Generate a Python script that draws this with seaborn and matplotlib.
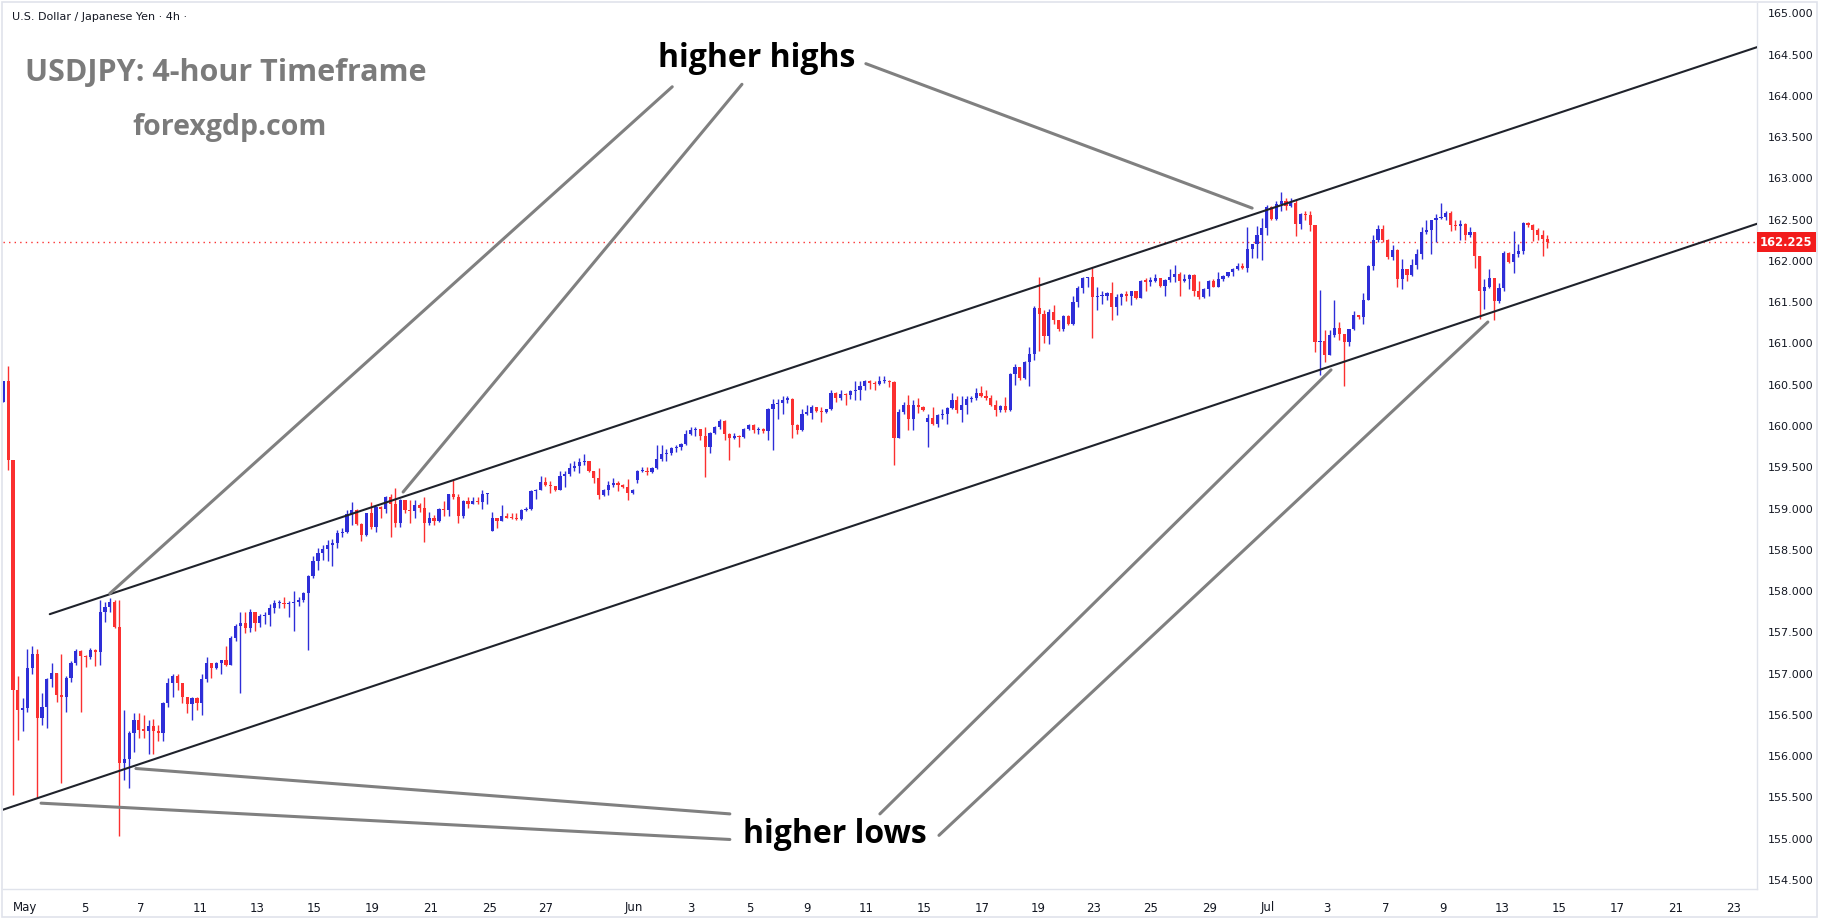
import numpy as np
import pandas as pd
import matplotlib
matplotlib.use("Agg")
import matplotlib.pyplot as plt
import matplotlib.transforms as mtransforms
from matplotlib.patches import Rectangle
import seaborn as sns

# ------------------------------------------------------------------
# USDJPY 4h candles
# ------------------------------------------------------------------
first_open = 160.29
gap_opens = {101: 158.73, 131: 159.35, 191: 160.05}

close = [
    160.54, 159.59, 156.80, 156.56, 156.58, 157.07, 157.24, 156.46, 156.60, 156.93,
    157.01, 156.74, 156.72, 156.95, 157.13, 157.27, 157.21, 157.20, 157.29, 157.26,
    157.75, 157.81, 157.87, 157.57, 155.92, 155.96, 156.28, 156.44, 156.32, 156.31,
    156.36, 156.31, 156.28, 156.64, 156.88, 156.97, 156.88, 156.72, 156.63, 156.70,
    156.64, 156.93, 157.13, 157.07, 157.13, 157.16, 157.11, 157.43, 157.58, 157.61,
    157.55, 157.75, 157.61, 157.70, 157.71, 157.80, 157.85, 157.86, 157.84, 157.85,
    157.87, 157.89, 157.98, 158.18, 158.37, 158.46, 158.51, 158.56, 158.58, 158.70,
    158.72, 158.93, 158.98, 158.81, 158.68, 158.94, 158.78, 159.02, 159.00, 159.14,
    159.06, 158.82, 159.10, 158.98, 158.97, 159.04, 159.01, 158.83, 158.89, 158.85,
    159.00, 158.98, 159.17, 159.14, 158.91, 159.09, 159.06, 159.09, 159.08, 159.17,
    159.18, 158.89, 158.85, 158.91, 158.89, 158.88, 158.87, 158.98, 159.00, 159.21,
    159.23, 159.32, 159.28, 159.27, 159.23, 159.40, 159.42, 159.49, 159.51, 159.56,
    159.57, 159.45, 159.37, 159.16, 159.23, 159.29, 159.31, 159.29, 159.26, 159.19,
    159.23, 159.45, 159.46, 159.44, 159.49, 159.60, 159.66, 159.67, 159.73, 159.74,
    159.78, 159.90, 159.95, 159.96, 159.88, 159.75, 159.92, 159.99, 160.06, 159.90,
    159.86, 159.88, 159.87, 159.96, 160.01, 159.95, 159.96, 159.94, 160.21, 160.27,
    160.28, 160.32, 160.33, 160.01, 159.95, 160.15, 160.16, 160.23, 160.18, 160.17,
    160.20, 160.40, 160.34, 160.39, 160.37, 160.42, 160.44, 160.48, 160.54, 160.52,
    160.51, 160.54, 160.55, 160.53, 159.86, 160.17, 160.25, 160.08, 160.25, 160.23,
    160.19, 160.10, 160.03, 160.13, 160.14, 160.22, 160.32, 160.19, 160.25, 160.33,
    160.34, 160.40, 160.36, 160.34, 160.25, 160.19, 160.24, 160.19, 160.63, 160.71,
    160.58, 160.78, 160.87, 161.43, 161.36, 161.09, 161.38, 161.28, 161.17, 161.33,
    161.23, 161.50, 161.67, 161.79, 161.80, 161.56, 161.57, 161.58, 161.61, 161.44,
    161.56, 161.60, 161.57, 161.63, 161.55, 161.76, 161.75, 161.76, 161.79, 161.70,
    161.77, 161.81, 161.84, 161.76, 161.78, 161.83, 161.63, 161.56, 161.66, 161.76,
    161.69, 161.78, 161.82, 161.86, 161.90, 161.94, 161.92, 162.14, 162.20, 162.32,
    162.40, 162.65, 162.51, 162.69, 162.73, 162.66, 162.70, 162.45, 162.57, 162.56,
    162.43, 161.02, 161.03, 160.86, 161.10, 161.19, 161.11, 161.02, 161.17, 161.34,
    161.32, 161.53, 161.94, 162.25, 162.39, 162.25, 162.05, 162.13, 161.78, 161.90,
    161.83, 161.95, 162.08, 162.35, 162.37, 162.49, 162.52, 162.53, 162.58, 162.43,
    162.42, 162.45, 162.31, 162.35, 162.06, 161.63, 161.69, 161.79, 161.51, 161.67,
    162.10, 161.99, 162.08, 162.12, 162.46, 162.43, 162.37, 162.32, 162.27, 162.225,
]

high = [
    160.54, 160.73, 159.59, 156.97, 156.70, 157.30, 157.33, 157.30, 156.76, 156.95,
    157.13, 156.95, 157.24, 156.97, 157.15, 157.30, 157.29, 157.22, 157.31, 157.30,
    157.89, 157.87, 157.92, 157.89, 157.89, 156.56, 156.30, 156.52, 156.52, 156.50,
    156.44, 156.45, 156.38, 156.66, 156.95, 156.99, 157.00, 156.86, 156.72, 156.72,
    156.72, 156.99, 157.20, 157.13, 157.14, 157.17, 157.33, 157.45, 157.60, 157.75,
    157.75, 157.78, 157.75, 157.72, 157.75, 157.84, 157.89, 157.89, 157.93, 157.88,
    158.00, 157.93, 157.99, 158.20, 158.42, 158.52, 158.56, 158.62, 158.63, 158.74,
    158.76, 158.98, 159.08, 159.00, 158.82, 158.95, 159.08, 159.03, 159.03, 159.15,
    159.18, 159.25, 159.11, 159.10, 159.10, 159.10, 159.07, 159.14, 158.96, 158.92,
    159.01, 159.09, 159.18, 159.35, 159.17, 159.10, 159.14, 159.14, 159.14, 159.23,
    159.19, 158.96, 158.89, 159.04, 158.95, 158.95, 158.94, 159.00, 159.02, 159.23,
    159.24, 159.39, 159.38, 159.33, 159.27, 159.45, 159.45, 159.55, 159.57, 159.61,
    159.66, 159.58, 159.46, 159.49, 159.24, 159.33, 159.37, 159.33, 159.30, 159.36,
    159.24, 159.47, 159.50, 159.50, 159.50, 159.77, 159.77, 159.72, 159.74, 159.77,
    159.79, 159.95, 159.99, 159.99, 159.96, 159.99, 159.93, 160.00, 160.09, 160.07,
    159.91, 159.92, 159.89, 159.97, 160.03, 160.02, 159.99, 159.97, 160.22, 160.33,
    160.33, 160.36, 160.36, 160.34, 160.02, 160.20, 160.26, 160.26, 160.23, 160.23,
    160.21, 160.44, 160.41, 160.43, 160.40, 160.43, 160.54, 160.54, 160.56, 160.56,
    160.55, 160.60, 160.60, 160.56, 160.54, 160.21, 160.29, 160.38, 160.31, 160.34,
    160.24, 160.14, 160.23, 160.14, 160.20, 160.23, 160.40, 160.36, 160.36, 160.36,
    160.36, 160.46, 160.48, 160.44, 160.38, 160.31, 160.25, 160.35, 160.64, 160.75,
    160.72, 160.79, 160.96, 161.45, 161.80, 161.41, 161.42, 161.46, 161.28, 161.34,
    161.34, 161.57, 161.70, 161.81, 161.80, 161.92, 161.69, 161.63, 161.62, 161.75,
    161.60, 161.61, 161.63, 161.64, 161.63, 161.77, 161.79, 161.81, 161.84, 161.79,
    161.78, 161.90, 161.95, 161.86, 161.84, 161.84, 161.84, 161.76, 161.67, 161.77,
    161.78, 161.87, 161.83, 161.87, 161.91, 161.97, 161.98, 162.41, 162.21, 162.42,
    162.52, 162.68, 162.66, 162.73, 162.84, 162.76, 162.76, 162.74, 162.58, 162.60,
    162.60, 162.44, 161.65, 161.16, 161.16, 161.53, 161.26, 161.12, 161.18, 161.39,
    161.35, 161.61, 161.95, 162.31, 162.43, 162.43, 162.27, 162.19, 162.14, 162.02,
    161.90, 162.02, 162.14, 162.41, 162.49, 162.50, 162.57, 162.70, 162.60, 162.60,
    162.50, 162.50, 162.46, 162.41, 162.35, 162.06, 161.78, 161.90, 161.79, 161.73,
    162.12, 162.11, 162.36, 162.21, 162.47, 162.47, 162.45, 162.40, 162.38, 162.32,
]

low = [
    160.29, 159.47, 155.53, 156.20, 156.30, 156.54, 156.99, 155.49, 156.38, 156.34,
    156.84, 156.66, 155.67, 156.54, 156.90, 157.10, 156.54, 157.08, 157.18, 157.09,
    157.11, 157.62, 157.75, 157.55, 155.03, 155.71, 155.61, 156.05, 156.22, 156.22,
    156.02, 156.02, 156.18, 156.18, 156.60, 156.72, 156.80, 156.64, 156.52, 156.44,
    156.56, 156.50, 156.90, 156.95, 157.05, 156.99, 157.09, 157.10, 157.40, 156.76,
    157.49, 157.50, 157.52, 157.56, 157.60, 157.58, 157.74, 157.80, 157.80, 157.69,
    157.51, 157.82, 157.87, 157.29, 158.16, 158.26, 158.38, 158.36, 158.30, 158.52,
    158.65, 158.70, 158.80, 158.80, 158.61, 158.67, 158.75, 158.72, 158.89, 158.94,
    158.65, 158.78, 158.78, 158.95, 158.82, 158.88, 158.96, 158.59, 158.80, 158.80,
    158.84, 158.91, 158.91, 159.12, 158.82, 158.88, 159.01, 159.05, 159.06, 159.00,
    159.06, 158.73, 158.76, 158.85, 158.88, 158.87, 158.86, 158.86, 158.97, 158.98,
    159.11, 159.22, 159.27, 159.19, 159.21, 159.22, 159.26, 159.40, 159.45, 159.43,
    159.53, 159.44, 159.31, 159.11, 159.15, 159.16, 159.26, 159.21, 159.25, 159.10,
    159.18, 159.31, 159.44, 159.41, 159.43, 159.48, 159.57, 159.57, 159.65, 159.68,
    159.71, 159.77, 159.89, 159.88, 159.83, 159.38, 159.67, 159.90, 159.96, 159.83,
    159.59, 159.84, 159.75, 159.85, 159.95, 159.92, 159.90, 159.91, 159.83, 159.71,
    160.09, 160.15, 160.28, 159.85, 159.90, 159.94, 160.13, 160.09, 160.17, 160.05,
    160.16, 160.19, 160.29, 160.31, 160.25, 160.33, 160.32, 160.32, 160.44, 160.45,
    160.44, 160.50, 160.52, 160.47, 159.53, 159.86, 160.14, 159.95, 159.95, 160.16,
    160.18, 159.74, 160.01, 159.99, 160.08, 160.03, 160.21, 160.16, 160.05, 160.14,
    160.29, 160.31, 160.35, 160.32, 160.24, 160.12, 160.17, 160.17, 160.18, 160.50,
    160.56, 160.57, 160.48, 160.80, 160.91, 161.01, 160.99, 161.24, 161.15, 161.15,
    161.22, 161.22, 161.44, 161.61, 161.69, 161.07, 161.41, 161.48, 161.53, 161.28,
    161.35, 161.47, 161.52, 161.46, 161.54, 161.55, 161.63, 161.70, 161.74, 161.69,
    161.57, 161.74, 161.75, 161.57, 161.75, 161.66, 161.57, 161.54, 161.55, 161.58,
    161.68, 161.68, 161.76, 161.80, 161.82, 161.89, 161.90, 161.86, 162.04, 162.04,
    162.01, 162.31, 162.50, 162.49, 162.61, 162.62, 162.65, 162.30, 162.39, 162.49,
    162.36, 160.90, 160.62, 160.77, 160.86, 161.08, 161.04, 160.49, 160.97, 161.16,
    161.30, 161.24, 161.53, 161.89, 162.23, 162.23, 162.02, 162.01, 161.68, 161.66,
    161.76, 161.82, 161.90, 162.02, 162.33, 162.08, 162.23, 162.51, 162.50, 162.36,
    162.37, 162.25, 162.25, 162.29, 161.91, 161.30, 161.42, 161.67, 161.29, 161.49,
    161.63, 161.98, 161.85, 162.05, 162.08, 162.41, 162.24, 162.25, 162.06, 162.16,
]

last_price = 162.225

# date labels along the bottom axis and the candle index under each label
date_labels = ["May", "5", "7", "11", "13", "15", "19", "21", "25", "27",
               "Jun", "3", "5", "9", "11", "15", "17", "19", "23", "25",
               "29", "Jul", "3", "7", "9", "13", "15", "17", "21", "23"]
date_ticks = [4.6, 16.9, 28.4, 40.6, 52.4, 64.2, 76.2, 88.2, 100.4, 112.1,
              130.3, 142.1, 154.3, 166.1, 178.2, 190.2, 202.2, 213.8, 225.3, 237.1,
              249.3, 261.3, 273.5, 285.7, 297.5, 309.6, 321.4, 333.4, 345.4, 357.4]

# channel trendlines (candle index, price)
upper_x, upper_y = [9.6, 362.3], [157.72, 164.59]
lower_x, lower_y = [-0.1, 362.3], [155.35, 162.45]

# grey pointer lines for the labels
pointers = [
    ([138.2, 22.0], [164.11, 157.97]),
    ([152.6, 82.6], [164.14, 159.20]),
    ([178.2, 258.0], [164.39, 162.64]),
    ([181.1, 274.3], [155.30, 160.68]),
    ([193.3, 306.7], [155.04, 161.26]),
    ([150.1, 27.4], [155.30, 155.85]),
    ([150.1, 7.8], [154.99, 155.43]),
]

# ------------------------------------------------------------------
# build OHLC table
# ------------------------------------------------------------------
df = pd.DataFrame({"close": close, "high": high, "low": low})
df["open"] = [first_open] + close[:-1]
for k, v in gap_opens.items():
    df.loc[k, "open"] = v
df["x"] = np.arange(len(df))
df["up"] = df["close"] >= df["open"]
df["high"] = df[["high", "open", "close"]].max(axis=1)
df["low"] = df[["low", "open", "close"]].min(axis=1)

BLUE = "#2e2ed8"
RED = "#fb3030"
colors = np.where(df["up"], BLUE, RED)

W, H = 1823, 919
sns.set_theme(style="white")
plt.rcParams["font.family"] = ["DejaVu Sans"]

fig = plt.figure(figsize=(W / 100, H / 100), dpi=100)
fig.patch.set_facecolor("white")
ax = fig.add_axes([3 / W, 30 / H, 1754 / W, 886 / H])
ax.set_facecolor("white")

# wicks and bodies
ax.vlines(df["x"], df["low"], df["high"], colors=colors, linewidth=1.0, zorder=3)
body_bottom = df[["open", "close"]].min(axis=1)
body_h = (df["close"] - df["open"]).abs().clip(lower=0.014)
ax.bar(df["x"], body_h, bottom=body_bottom, width=0.66, color=colors, linewidth=0, zorder=4)

# channel lines
sns.lineplot(x=upper_x, y=upper_y, ax=ax, color="#1f222b", linewidth=1.5, zorder=5)
sns.lineplot(x=lower_x, y=lower_y, ax=ax, color="#1f222b", linewidth=1.5, zorder=5)

# pointer lines
for px, py in pointers:
    sns.lineplot(x=px, y=py, ax=ax, color="#808080", linewidth=2.2, zorder=6)

# last price line + tag
ax.axhline(last_price, color=RED, linestyle=(0, (1, 3)), linewidth=1.0, zorder=2)
trans = mtransforms.blended_transform_factory(ax.transAxes, ax.transData)
ax.text(1.0 + 3 / 1754, last_price, f"{last_price:.3f}", transform=trans,
        ha="left", va="center", color="white", fontsize=8.3, fontweight="bold",
        bbox=dict(boxstyle="square,pad=0.3", fc="#f21c1c", ec="none"), zorder=10,
        clip_on=False)

# annotation labels
ax.text(155.7, 164.45, "higher highs", ha="center", va="center", fontsize=23,
        fontweight="bold", color="black", family=["Open Sans", "DejaVu Sans"], zorder=7)
ax.text(171.8, 155.05, "higher lows", ha="center", va="center", fontsize=23,
        fontweight="bold", color="black", family=["Open Sans", "DejaVu Sans"], zorder=7)

# axes limits, ticks
ax.set_xlim(-0.06, 362.3)
ax.set_ylim(154.39, 165.125)
ax.yaxis.tick_right()
ax.set_yticks(np.arange(154.5, 165.01, 0.5))
ax.set_yticklabels([f"{v:.3f}" for v in np.arange(154.5, 165.01, 0.5)])
ax.tick_params(axis="y", length=0, pad=8, labelsize=8, labelcolor="#131722")
ax.set_xticks(date_ticks)
ax.set_xticklabels(date_labels, family=["Liberation Sans Narrow", "DejaVu Sans"])
ax.tick_params(axis="x", length=0, pad=9, labelsize=8.5, labelcolor="#131722")
ax.grid(False)
for side in ["top", "left"]:
    ax.spines[side].set_visible(False)
for side in ["right", "bottom"]:
    ax.spines[side].set_color("#e0e3eb")
    ax.spines[side].set_linewidth(1.0)

# outer frame
fig.patches.append(Rectangle((2 / W, 2 / H), 1815 / W, 915 / H, transform=fig.transFigure,
                             fill=False, edgecolor="#e0e3eb", linewidth=1.2))

# header texts
fig.text(12 / W, 1 - 17 / H, "U.S. Dollar / Japanese Yen \u00b7 4h \u00b7", ha="left", va="center",
         fontsize=8, color="#131722")
fig.text(25 / W, 1 - 73 / H, "USDJPY: 4-hour Timeframe", ha="left", va="center",
         fontsize=22, fontweight="bold", color="#7b7b7b", family=["Open Sans", "DejaVu Sans"])
fig.text(230 / W, 1 - 128 / H, "forexgdp.com", ha="center", va="center",
         fontsize=20.5, fontweight="bold", color="#7b7b7b", family=["Open Sans", "DejaVu Sans"])

fig.savefig("out.png", dpi=100, facecolor="white")
